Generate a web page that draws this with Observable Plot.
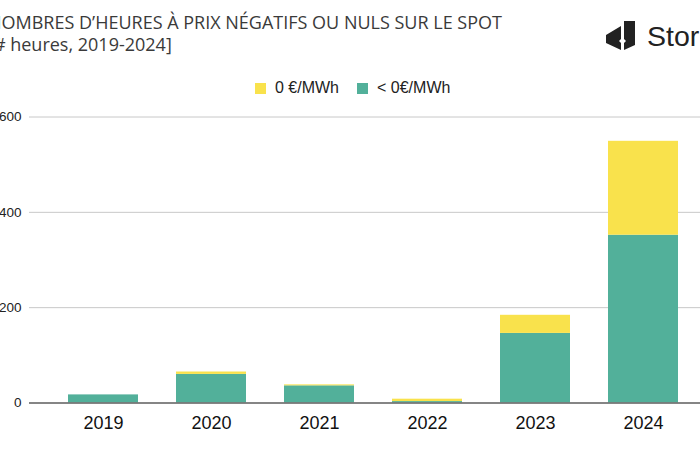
<!DOCTYPE html>
<html>
<head>
<meta charset="utf-8">
<script src="https://cdn.jsdelivr.net/npm/d3@7"></script>
<script src="https://cdn.jsdelivr.net/npm/@observablehq/plot@0.6"></script>
<style>
  html, body { margin: 0; padding: 0; background: #fff; }
  #frame { position: relative; width: 700px; height: 450px; overflow: hidden; background: #fff; }
  .title { position: absolute; left: -12px; top: 11px; font-family: "Open Sans", "Noto Sans", sans-serif; font-size: 18px; line-height: 22px; color: #3a3a3a; white-space: nowrap; }
  .legend { position: absolute; left: 255px; top: 78px; height: 20px; display: flex; align-items: center; font-family: "Liberation Sans", Arial, sans-serif; font-size: 16px; color: #222; white-space: nowrap; }
  .legend .sw { width: 11px; height: 11px; display: inline-block; margin-right: 9px; }
  .legend .item { display: flex; align-items: center; margin-right: 18px; }
  .logo { position: absolute; left: 606px; top: 20px; display: flex; align-items: center; white-space: nowrap; }
  .logo span { font-family: "Liberation Sans", Arial, sans-serif; font-size: 28.5px; color: #222; margin-left: 11px; }
  #chart { position: absolute; left: -12px; top: 100px; width: 740px; }
  #chart svg { max-width: none; }
</style>
</head>
<body>
<div id="frame">
  <div class="title">NOMBRES D’HEURES À PRIX NÉGATIFS OU NULS SUR LE SPOT<br>[# heures, 2019-2024]</div>
  <div class="legend" id="legend"></div>
  <div class="logo">
    <svg width="30" height="31" viewBox="0 0 30 31">
      <path d="M0,14 L15,5 L15,18 L13,20 L15,22 L15,29 L0,22 Z" fill="#222"/>
      <path d="M18,0 L29,0 L29,24 L18,29 L18,22 L20,20 L18,18 Z" fill="#222"/>
    </svg>
    <span>Storio</span>
  </div>
  <div id="chart"></div>
</div>
<script>
const years = ["2019", "2020", "2021", "2022", "2023", "2024"];
const negValues = [17, 60, 36, 3, 146, 352];   // < 0€/MWh
const zeroValues = [0, 5, 2, 5, 38, 197];      // 0 €/MWh
const seriesNames = ["< 0€/MWh", "0 €/MWh"];
const seriesColors = ["#52b09a", "#f9e24c"];
const yTicks = [0, 200, 400, 600];

const data = [];
years.forEach((y, i) => {
  data.push({year: y, type: seriesNames[0], value: negValues[i]});
  data.push({year: y, type: seriesNames[1], value: zeroValues[i]});
});

// legend (order as in reference: yellow first)
const legend = document.getElementById("legend");
[[seriesNames[1], seriesColors[1]], [seriesNames[0], seriesColors[0]]].forEach(([n, c]) => {
  const it = document.createElement("div");
  it.className = "item";
  const sw = document.createElement("span");
  sw.className = "sw";
  sw.style.background = c;
  it.appendChild(sw);
  it.appendChild(document.createTextNode(n));
  legend.appendChild(it);
});

const chart = Plot.plot({
  width: 740,
  height: 350,
  marginLeft: 41,
  marginRight: 11,
  marginTop: 16.5,
  marginBottom: 47.5,
  style: {background: "transparent", maxWidth: "none", fontFamily: "Liberation Sans, Arial, sans-serif"},
  x: {domain: years, paddingInner: 0.355, paddingOuter: 0.35, label: null},
  y: {domain: [0, 600], label: null},
  color: {domain: seriesNames, range: seriesColors},
  marks: [
    Plot.gridY(yTicks, {stroke: "#c8c8c8", strokeOpacity: 1, strokeWidth: 1}),
    Plot.barY(data, {x: "year", y: "value", fill: "type", order: seriesNames}),
    Plot.ruleY([0], {stroke: "#666", strokeWidth: 1.5}),
    Plot.axisY(yTicks, {tickSize: 0, tickPadding: 8, fontSize: 13.5, fill: "#222", label: null}),
    Plot.axisX({tickSize: 0, tickPadding: 13, fontSize: 18, fill: "#111", label: null})
  ]
});
chart.style.maxWidth = "none";
document.getElementById("chart").appendChild(chart);
</script>
</body>
</html>
